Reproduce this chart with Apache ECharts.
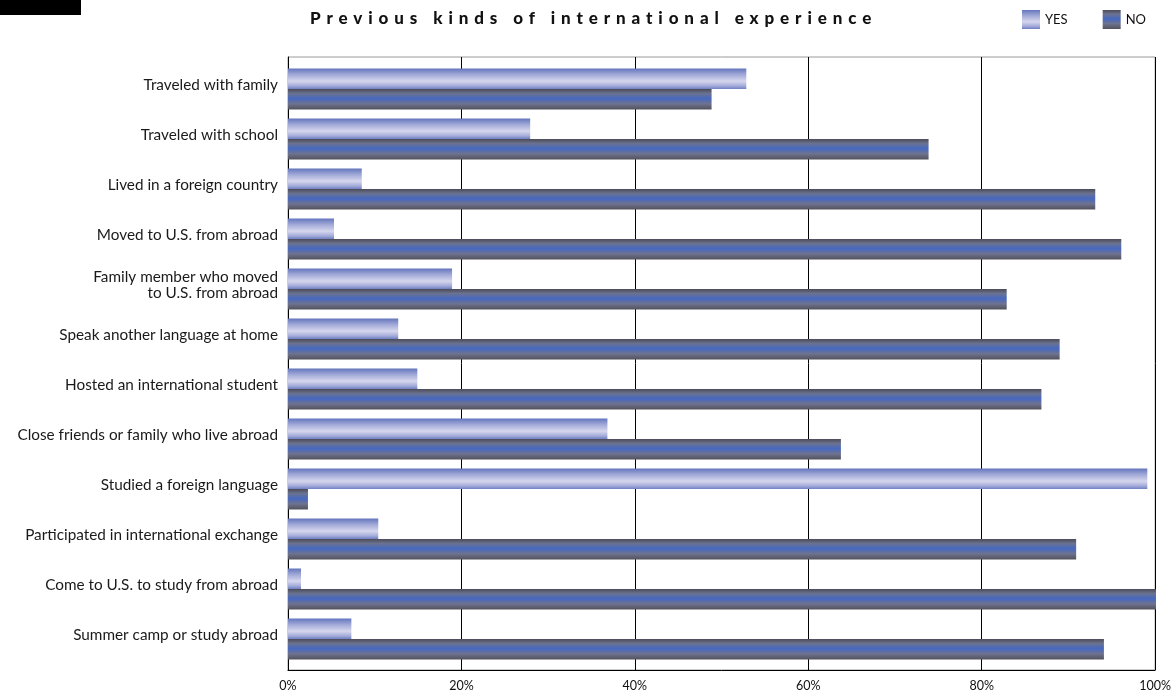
<!DOCTYPE html>
<html>
<head>
<meta charset="utf-8">
<title>Previous kinds of international experience</title>
<script src="https://cdn.jsdelivr.net/npm/echarts@6/dist/echarts.min.js"></script>
<style>
  html, body { margin: 0; padding: 0; background: #fff; }
  #chart { width: 1174px; height: 692px; }
</style>
</head>
<body>
<div id="chart"></div>
<script>
// Survey answers, one row per kind of experience (percent of respondents)
const categories = [
  'Traveled with family',
  'Traveled with school',
  'Lived in a foreign country',
  'Moved to U.S. from abroad',
  'Family member who moved\nto U.S. from abroad',
  'Speak another language at home',
  'Hosted an international student',
  'Close friends or family who live abroad',
  'Studied a foreign language',
  'Participated in international exchange',
  'Come to U.S. to study from abroad',
  'Summer camp or study abroad'
];
const yesValues = [52.8, 27.9, 8.5, 5.3, 18.9, 12.7, 14.9, 36.8, 99.0, 10.4, 1.5, 7.3];
const noValues  = [48.8, 73.8, 93.0, 96.0, 82.8, 88.9, 86.8, 63.7, 2.3, 90.8, 100.0, 94.0];
const seriesNames = ['YES', 'NO'];
const axisTicks = [0, 20, 40, 60, 80, 100];

const TITLE = 'Previous kinds of international experience';

// Spread the title letters out (canvas letterSpacing applied to that one string)
const baseFillText = CanvasRenderingContext2D.prototype.fillText;
CanvasRenderingContext2D.prototype.fillText = function (text, x, y, maxWidth) {
  if (text === TITLE && 'letterSpacing' in this) {
    const prev = this.letterSpacing;
    this.letterSpacing = '5.9px';
    baseFillText.call(this, text, x, y);
    this.letterSpacing = prev;
    return;
  }
  return baseFillText.apply(this, arguments);
};

const yesFill = new echarts.graphic.LinearGradient(0, 0, 0, 1, [
  { offset: 0, color: '#6475bd' },
  { offset: 0.3, color: '#a1aad7' },
  { offset: 0.62, color: '#d6d6ee' },
  { offset: 0.85, color: '#a3abd9' },
  { offset: 1, color: '#6e7fc3' }
]);
const noFill = new echarts.graphic.LinearGradient(0, 0, 0, 1, [
  { offset: 0, color: '#4c4c58' },
  { offset: 0.22, color: '#6b7290' },
  { offset: 0.47, color: '#4668c0' },
  { offset: 0.72, color: '#6e7390' },
  { offset: 1, color: '#52525c' }
]);

const chart = echarts.init(document.getElementById('chart'), null, { renderer: 'canvas' });

const FONT = 'Lato, "Open Sans", sans-serif';

chart.setOption({
  backgroundColor: '#ffffff',
  animation: false,
  title: {
    text: TITLE,
    left: 310,
    top: 10,
    padding: 0,
    textStyle: { fontFamily: FONT, fontSize: 17, fontWeight: 900, color: '#111' }
  },
  legend: {
    data: seriesNames,
    left: 1022,
    top: 10,
    padding: 0,
    icon: 'rect',
    itemWidth: 18,
    itemHeight: 19,
    itemGap: 35,
    textStyle: { fontFamily: FONT, fontSize: 13, color: '#111', padding: [2, 0, 0, 0] }
  },
  graphic: [
    { type: 'rect', left: 0, top: 0, shape: { width: 81, height: 15 }, style: { fill: '#000' } }
  ],
  grid: [
    // outer frame: gridlines, bottom axis with percent labels
    { left: 288, right: 18, top: 57, bottom: 21, show: true, borderColor: '#9a9a9a', borderWidth: 1, backgroundColor: 'transparent' },
    // bar area
    { left: 288, right: 18, top: 64, bottom: 28 },
    // category names, sitting a little above each bar pair
    { left: 288, right: 18, top: 60, bottom: 32 }
  ],
  xAxis: [
    {
      gridIndex: 0, type: 'value', min: axisTicks[0], max: axisTicks[axisTicks.length - 1], interval: 20,
      axisLine: { show: true, lineStyle: { color: '#000', width: 1 } },
      axisTick: { show: false },
      splitLine: { show: true, lineStyle: { color: '#000', width: 1 } },
      axisLabel: { formatter: '{value}%', margin: 9, fontFamily: FONT, fontSize: 12.5, color: '#111' }
    },
    { gridIndex: 1, type: 'value', min: 0, max: 100, show: false },
    { gridIndex: 2, type: 'value', min: 0, max: 100, show: false }
  ],
  yAxis: [
    {
      gridIndex: 0, type: 'value', min: 0, max: 1,
      axisLine: { show: true, lineStyle: { color: '#000', width: 1 } },
      axisTick: { show: false }, axisLabel: { show: false }, splitLine: { show: false }
    },
    {
      gridIndex: 1, type: 'category', data: categories, inverse: true,
      axisLine: { show: false }, axisTick: { show: false }, splitLine: { show: false },
      axisLabel: { show: false }
    },
    {
      gridIndex: 2, type: 'category', data: categories, inverse: true,
      axisLine: { show: false }, axisTick: { show: false }, splitLine: { show: false },
      axisLabel: {
        margin: 10, fontFamily: FONT, fontSize: 15.3, color: '#1a1a1a', lineHeight: 16,
        align: 'right'
      }
    }
  ],
  series: [
    {
      name: seriesNames[0], type: 'bar', xAxisIndex: 1, yAxisIndex: 1,
      data: yesValues, barWidth: 20.5, barGap: '0%',
      itemStyle: { color: yesFill }
    },
    {
      name: seriesNames[1], type: 'bar', xAxisIndex: 1, yAxisIndex: 1,
      data: noValues, barWidth: 20.5, barGap: '0%',
      itemStyle: { color: noFill }
    }
  ]
});
</script>
</body>
</html>
